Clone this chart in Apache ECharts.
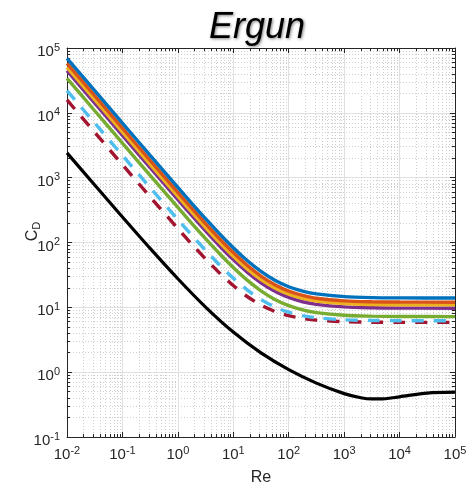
<!DOCTYPE html>
<html><head><meta charset="utf-8">
<script src="https://cdn.jsdelivr.net/npm/echarts@6/dist/echarts.min.js"></script>
<style>html,body{margin:0;padding:0;background:#fff}#c{width:466px;height:485px}</style>
</head><body><div id="c"></div>
<script>
const re = [0.01,0.0316,0.1,0.316,1,1.78,3.16,5.62,10,17.8,31.6,56.2,100,178,316,1000,3162,10000,100000];
const cdBlue   = [69300,21940,6944,2207,707,403,233,137,83.2,52.8,35.8,26.2,20.8,17.8,16.1,14.6,14.1,13.97,13.91];
const cdOrange = [58000,18370,5812,1847,592,338,195.5,115.2,70,44.6,30.4,22.3,17.8,15.3,13.8,12.6,12.2,12.06,12.0];
const cdYellow = [50300,15930,5041,1603,514,293.5,170,100.4,61.2,39.2,26.8,19.9,15.9,13.7,12.5,11.4,11.06,10.95,10.91];
const cdPurple = [44700,14160,4480,1424,457,261,151,89.2,54.4,34.8,23.9,17.7,14.2,12.2,11.1,10.15,9.84,9.74,9.7];
const cdGreen  = [34000,10770,3407,1083,347,198,114.8,67.7,41.2,26.3,18.0,13.25,10.6,9.11,8.28,7.54,7.31,7.23,7.2];
const cdCyan   = [22000,6968,2206,702,226,129.8,75.8,45.3,28.2,18.6,13.2,10.1,8.4,7.44,6.9,6.42,6.27,6.22,6.2];
const cdRed    = [15800,5006,1586,506,164,94.6,55.9,34.0,21.7,14.7,10.85,8.66,7.43,6.74,6.35,6.01,5.9,5.87,5.85];
const reBlack  = [0.01,0.0316,0.1,0.316,1,3.16,10,31.6,100,316,1000,2000,3162,5000,10000,31623,100000];
const cdBlack  = [2415,770,247.4,81.1,27.6,10.1,4.15,1.98,1.094,0.678,0.467,0.403,0.386,0.387,0.417,0.476,0.492];
const xExps = [-2,-1,0,1,2,3,4,5];
const yExps = [-1,0,1,2,3,4,5];
const colors = ['#0072BD','#D95319','#EDB120','#7E2F8E','#77AC30','#4DBEEE','#A2142F'];

const FONT = 'Liberation Sans, Arial, Helvetica, sans-serif';
const txt = '#262626';
function pair(xs, ys){ return xs.map((x,i)=>[x, ys[i]]); }
function expLabel(v){ const e = Math.round(Math.log10(v)); return '{b|10}{s|' + e + '}'; }
const rich = { b:{fontSize:15, color:txt, fontFamily:FONT}, s:{fontSize:11, color:txt, fontFamily:FONT, verticalAlign:'top', padding:[0,0,9,0]} };

const mk = (name, ys, ci, dashed) => ({
  name, type:'line', data: pair(re, ys), smooth:0.3, symbol:'none',
  lineStyle:{ color: colors[ci], width:3.4, type: dashed ? [12,10] : 'solid' },
  z: 10 - ci
});

const series = [
  mk('a', cdBlue, 0), mk('b', cdOrange, 1), mk('c', cdYellow, 2), mk('d', cdPurple, 3),
  mk('e', cdGreen, 4), mk('f', cdCyan, 5, true), mk('g', cdRed, 6, true),
  { name:'black', type:'line', data: pair(reBlack, cdBlack), smooth:0.3, symbol:'none', lineStyle:{color:'#000', width:3.2}, z:11 }
];

const baseAxis = {
  type:'log', logBase:10,
  axisLine:{ show:true, onZero:false, lineStyle:{color:txt, width:1} },
  axisTick:{ show:true, inside:true, length:5, lineStyle:{color:txt} },
  minorTick:{ show:true, splitNumber:9, length:3, lineStyle:{color:txt} },
  splitLine:{ show:true, lineStyle:{ color:'#e0e0e0', width:1 } },
  minorSplitLine:{ show:true, lineStyle:{ color:'#cfcfcf', width:1, type:[1,2] } }
};

const chart = echarts.init(document.getElementById('c'), null, {renderer:'canvas'});
chart.setOption({
  animation:false,
  backgroundColor:'#fff',
  title:{ text:'Ergun', left:252, top:5, textAlign:'center',
    textStyle:{ fontFamily:FONT, fontStyle:'italic', fontWeight:'normal', fontSize:36, color:'#000',
      textShadowColor:'rgba(0,0,0,0.5)', textShadowBlur:3, textShadowOffsetX:1, textShadowOffsetY:1 } },
  grid:{ left:67, right:11, top:48, bottom:48, containLabel:false, outerBoundsMode:'none' },
  xAxis:[
    Object.assign({}, baseAxis, { min:0.01, max:100000, position:'bottom',
      name:'Re', nameLocation:'middle', nameGap:33, nameMoveOverlap:false,
      nameTextStyle:{ fontFamily:FONT, fontSize:16, color:txt },
      axisLabel:{ formatter: expLabel, rich, margin:8 } }),
    Object.assign({}, baseAxis, { min:0.01, max:100000, position:'top', axisLabel:{show:false},
      splitLine:{show:false}, minorSplitLine:{show:false} })
  ],
  yAxis:[
    Object.assign({}, baseAxis, { min:0.1, max:100000, position:'left',
      name:'{c|C}{d|D}', nameLocation:'middle', nameGap:25, nameRotate:90, nameMoveOverlap:false,
      nameTextStyle:{ padding:[0,0,0,22], rich:{ c:{fontFamily:FONT, fontSize:16, color:txt}, d:{fontFamily:FONT, fontSize:11, color:txt, verticalAlign:'bottom', padding:[7,0,0,0]} } },
      axisLabel:{ formatter: expLabel, rich, margin:7, padding:[8,0,0,0] } }),
    Object.assign({}, baseAxis, { min:0.1, max:100000, position:'right', axisLabel:{show:false},
      splitLine:{show:false}, minorSplitLine:{show:false} })
  ],
  series
});
</script></body></html>
